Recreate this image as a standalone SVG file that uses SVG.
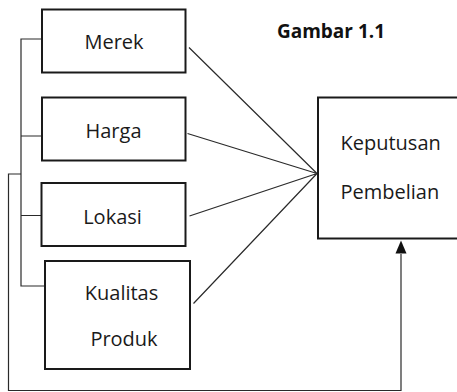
<svg xmlns="http://www.w3.org/2000/svg" width="457" height="392" viewBox="0 0 457 392">
<defs>
<style>
.box{fill:#fff;stroke:#1a1a1a;stroke-width:2}
.ln{fill:none;stroke:#2a2a2a;stroke-width:1.2}
.t{font-family:"Open Sans","Liberation Sans",sans-serif;font-size:20px;fill:#1a1a1a}
.tb{font-family:"Open Sans","Liberation Sans",sans-serif;font-size:19px;font-weight:bold;fill:#111}
</style>
</defs>
<rect width="457" height="392" fill="#fff"/>
<text class="tb" x="331" y="37.5" text-anchor="middle">Gambar 1.1</text>
<g id="connectors">
<path class="ln" d="M42,39 H21 V286 H45 M21,136 H42 M21,215.5 H42"/>
<path class="ln" d="M21,174 H8.5 V390.5 H401 V254"/>
<path d="M395.5,253.5 L406.5,253.5 L401,240.5 Z" fill="#111"/>
<path class="ln" d="M189,47.5 L317,173.5 M187.5,133.5 L317,173.5 M189.5,216 L317,173.5 M193.5,303.5 L317,173.5"/>
</g>
<g id="merek">
<rect class="box" x="42" y="9.5" width="143.5" height="63"/>
<text class="t" x="114" y="49" text-anchor="middle">Merek</text>
</g>
<g id="harga">
<rect class="box" x="42" y="97.5" width="143.5" height="63"/>
<text class="t" x="113.5" y="137.5" text-anchor="middle">Harga</text>
</g>
<g id="lokasi">
<rect class="box" x="41.5" y="183" width="144" height="63"/>
<text class="t" x="112.5" y="223.5" text-anchor="middle">Lokasi</text>
</g>
<g id="kualitas">
<rect class="box" x="45" y="261" width="145" height="108"/>
<text class="t" x="121.5" y="300" text-anchor="middle">Kualitas</text>
<text class="t" x="124" y="345.5" text-anchor="middle">Produk</text>
</g>
<g id="keputusan">
<rect class="box" x="318" y="97.5" width="160" height="141"/>
<text class="t" x="340.5" y="149.5">Keputusan</text>
<text class="t" x="340.5" y="198.5">Pembelian</text>
</g>
</svg>
